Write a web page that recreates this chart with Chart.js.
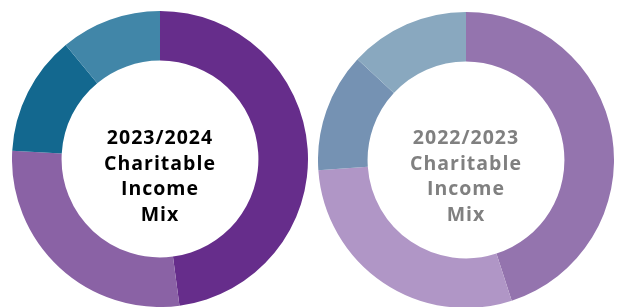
<!DOCTYPE html>
<html>
<head>
<meta charset="utf-8">
<script src="https://cdn.jsdelivr.net/npm/chart.js@4"></script>
<style>
  html, body { margin: 0; padding: 0; background: #fff; width: 617px; height: 307px; overflow: hidden; }
  .caja { position: absolute; width: 296px; height: 296px; }
  .texto {
    position: absolute; width: 200px; text-align: center;
    font-family: "Open Sans", sans-serif; font-weight: 700;
    font-size: 19.5px; line-height: 25.5px; letter-spacing: 1px;
  }
</style>
</head>
<body>
<div class="caja" style="left:12px; top:11px;"><canvas id="canvas1"></canvas></div>
<div class="caja" style="left:318px; top:12px;"><canvas id="canvas2"></canvas></div>
<div class="texto" style="left:60px; top:124px; color:#000;">2023/2024<br>Charitable<br>Income<br>Mix</div>
<div class="texto" style="left:366px; top:124px; color:#808080;">2022/2023<br>Charitable<br>Income<br>Mix</div>
<script>
// porcentajes (sentido horario desde arriba)
const segmentos = ['Segment 1', 'Segment 2', 'Segment 3', 'Segment 4'];
const valores2024 = [47.9, 28.0, 13.1, 11.0];
const valores2023 = [45.0, 28.9, 13.0, 13.1];
const colores2024 = ['#662d8b', '#8a62a5', '#13688f', '#4186a8'];
const colores2023 = ['#9474ae', '#b096c6', '#7592b3', '#89a8bf'];

function crearDona(idCaja, data, colors) {
    const ctx = document.getElementById(idCaja);
    return new Chart(ctx, {
        type: 'doughnut',
        data: {
            labels: segmentos,
            datasets: [{
                data: data,
                backgroundColor: colors,
                borderWidth: 0
            }]
        },
        options: {
            responsive: true,
            maintainAspectRatio: false,
            animation: false,
            cutout: '66.5%',
            layout: { padding: 0 },
            plugins: {
                legend: { display: false },
                tooltip: { enabled: false }
            }
        }
    });
}

crearDona('canvas1', valores2024, colores2024);
crearDona('canvas2', valores2023, colores2023);
</script>
</body>
</html>
